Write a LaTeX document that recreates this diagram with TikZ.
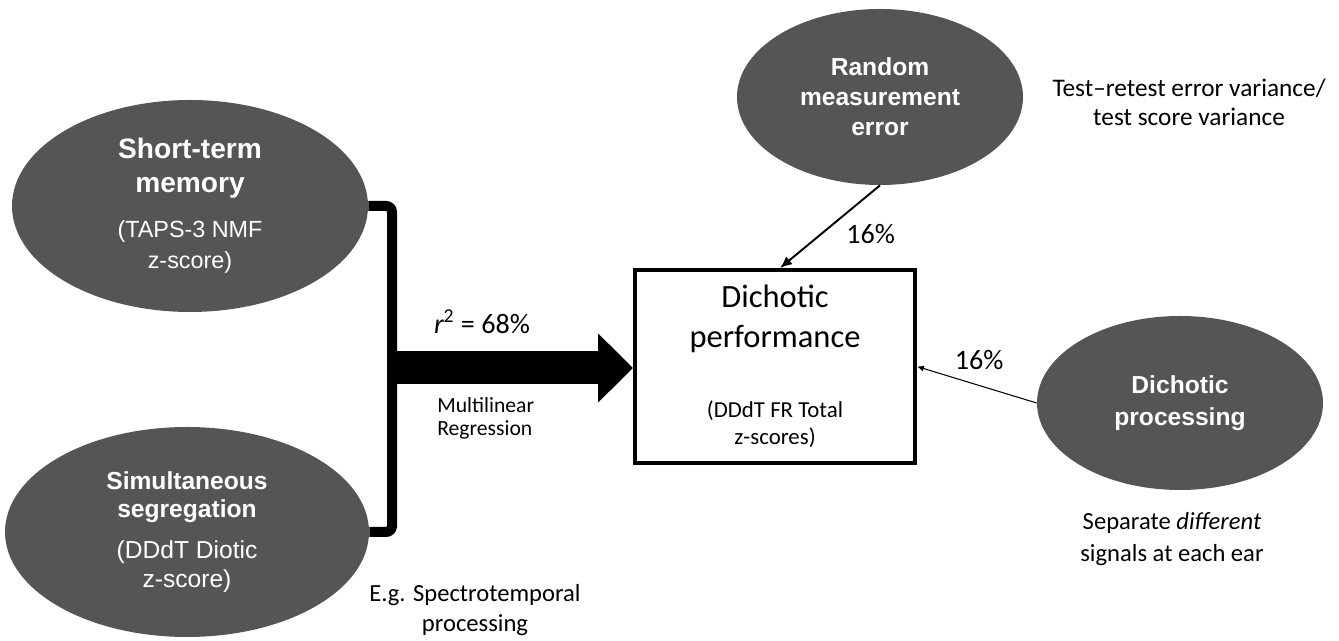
\documentclass[tikz,border=0pt]{standalone}
\usepackage{fontspec}
\setmainfont{Carlito}
\newfontfamily\arialfont{Liberation Sans}
\usetikzlibrary{calc}
\usetikzlibrary{shapes.geometric}
\usetikzlibrary{arrows.meta}
\definecolor{ovalgray}{RGB}{85,85,85}

\begin{document}
\begin{tikzpicture}[
        factor/.style={ellipse, fill=ovalgray, text=white, inner sep=0pt, align=center},
        outcome/.style={draw, line width=2.2pt, minimum width=5.6cm, minimum height=3.86cm, align=center},
        link/.style={line width=1.1pt, -{Latex[length=0.24cm,width=0.2cm]}},
        thinlink/.style={line width=0.6pt, -{Latex[length=0.14cm,width=0.12cm]}},
        pct/.style={inner sep=0pt, font=\fontsize{16}{19}\selectfont},
        note/.style={align=center, inner sep=0pt}
    ]
        \useasboundingbox (0,0) rectangle (26.78,12.82);

        % the four ovals
        \node[factor, minimum width=7.12cm, minimum height=4.24cm,
              font=\arialfont\fontsize{13.3}{18}\selectfont] (stm) at (3.80,8.70)
            {{\fontsize{16}{19}\selectfont\bfseries Short-term}\\[1.3pt]
             {\fontsize{16}{19}\selectfont\bfseries memory}\\[7.5pt]
             (TAPS-3 NMF\\z-score)};
        \node[factor, minimum width=7.28cm, minimum height=4.2cm,
              font=\arialfont\fontsize{14}{16.4}\selectfont] (seg) at (3.74,2.18)
            {\textbf{Simultaneous}\\\textbf{segregation}\\[6.8pt]
             (DDdT Diotic\\z-score)};
        \node[factor, minimum width=5.72cm, minimum height=3.52cm,
              font=\arialfont\fontsize{14}{17}\selectfont] (err) at (17.60,10.88)
            {\textbf{Random}\\\textbf{measurement}\\\textbf{error}};
        \node[factor, minimum width=5.72cm, minimum height=3.48cm,
              font=\arialfont\fontsize{14}{18}\selectfont] (dich) at (23.60,4.76)
            {\textbf{Dichotic}\\\textbf{processing}};

        % outcome box
        \node[outcome, font=\fontsize{13}{15.3}\selectfont] (box) at (15.50,5.49)
            {{\fontsize{18.5}{22}\selectfont Dichotic}\\[7.4pt]
             {\fontsize{18.5}{22}\selectfont performance}\\[24.4pt]
             (DDdT FR Total\\z-scores)};

        % bracket and big arrow
        \coordinate (join) at (7.84,5.46);
        \draw[line width=0.2cm, rounded corners=0.12cm] (stm.east) -| (join) |- (seg.east);
        \draw[line width=0.66cm, -{Triangle[length=0.7cm,width=1.34cm]}] (join) -- (join -| box.west);

        \draw[link] (err.south) -- ($(box.north)+(0.1,0)$)
            node[pct, pos=0.59, right=0.49cm] (pcterr) {16\%};
        \draw[thinlink] (dich.west) -- (box.east)
            node[pct, pos=0.48, above=0.3cm] (pctdich) {16\%};

        % side texts
        \node[pct] (rsq) at (9.64,6.38) {{\itshape r}\textsuperscript{2} = 68\%};
        \node[note, anchor=west, align=left, font=\fontsize{12.3}{13}\selectfont] (mlr) at (8.74,4.45)
            {Multilinear\\Regression};
        \node[note, font=\fontsize{14}{17.5}\selectfont] (spt) at (9.50,0.62)
            {E.g. Spectrotemporal\\processing};
        \node[note, font=\fontsize{14.4}{16.5}\selectfont] (trt) at (23.78,10.78)
            {Test--retest error variance/\\test score variance};
        \node[note, font=\fontsize{14}{18}\selectfont] (sep) at (23.44,2.04)
            {Separate \textit{different}\\signals at each ear};
\end{tikzpicture}
\end{document}
